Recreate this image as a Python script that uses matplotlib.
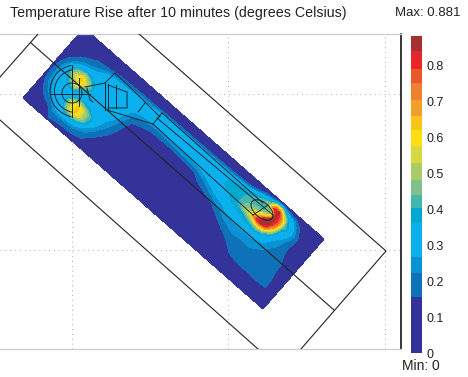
import matplotlib
matplotlib.use('Agg')
import matplotlib.pyplot as plt
import numpy as np
from matplotlib.patches import Arc, Circle, Ellipse

plt.rcParams['font.family'] = ['Liberation Sans', 'DejaVu Sans']

# stations along (u) and across (v) the modelled slab
u_st = [0, .03, .07, .10, .125, .15, .18, .22, .26, .31, .37, .45, .55, .65, .72, .77,
        .80, .82, .84, .86, .88, .90, .93, .96, 1]
v_st = [0, .08, .16, .24, .32, .40, .48, .56, .62, .68, .74, .80, .85, .89, .93, 1]

# temperature rise, one row per u station
temp = [
    [.03, .05, .08, .10, .11, .12, .12, .10, .09, .08, .06, .05, .04, .03, .03, .03],
    [.05, .08, .13, .17, .24, .26, .27, .24, .19, .15, .12, .09, .07, .05, .04, .03],
    [.06, .10, .19, .30, .32, .33, .40, .50, .42, .27, .19, .14, .09, .06, .04, .03],
    [.14, .20, .29, .32, .33, .33, .56, .66, .52, .30, .23, .18, .14, .08, .05, .03],
    [.12, .19, .32, .50, .54, .33, .38, .52, .42, .31, .27, .20, .15, .09, .05, .03],
    [.12, .18, .32, .64, .64, .36, .32, .36, .32, .31, .30, .26, .16, .10, .05, .03],
    [.11, .18, .29, .50, .50, .33, .31, .31, .31, .31, .30, .28, .19, .12, .05, .03],
    [.08, .15, .21, .27, .31, .31, .31, .31, .31, .31, .30, .29, .21, .12, .05, .03],
    [.04, .07, .11, .16, .20, .24, .27, .30, .31, .31, .31, .30, .23, .13, .05, .03],
    [.03, .04, .06, .08, .09, .10, .12, .15, .19, .25, .30, .31, .24, .13, .05, .03],
    [.03, .04, .05, .06, .07, .08, .09, .11, .14, .20, .28, .33, .29, .15, .05, .03],
    [.03, .04, .05, .06, .07, .07, .08, .10, .12, .22, .30, .33, .30, .16, .06, .03],
    [.03, .04, .05, .06, .07, .08, .09, .11, .15, .25, .31, .34, .31, .17, .06, .03],
    [.03, .05, .06, .07, .08, .09, .13, .24, .30, .32, .36, .36, .32, .19, .07, .03],
    [.04, .06, .08, .10, .12, .17, .25, .30, .36, .39, .40, .40, .37, .24, .09, .03],
    [.06, .08, .10, .13, .17, .23, .26, .33, .40, .55, .48, .42, .42, .40, .26, .03],
    [.07, .09, .14, .165, .18, .22, .26, .33, .46, .80, .62, .43, .43, .48, .38, .03],
    [.08, .10, .14, .17, .19, .22, .26, .32, .50, .86, .87, .50, .48, .80, .60, .03],
    [.09, .11, .15, .17, .20, .222, .255, .30, .46, .76, .87, .87, .86, .85, .60, .03],
    [.10, .12, .15, .17, .19, .21, .235, .29, .33, .50, .68, .75, .72, .58, .38, .03],
    [.11, .13, .15, .17, .19, .20, .22, .245, .27, .30, .36, .44, .42, .36, .28, .03],
    [.12, .14, .15, .17, .18, .19, .20, .215, .235, .26, .30, .35, .32, .28, .22, .03],
    [.10, .13, .15, .175, .18, .18, .18, .175, .17, .17, .19, .20, .17, .13, .08, .03],
    [.05, .08, .155, .16, .155, .15, .15, .13, .11, .09, .08, .07, .06, .05, .04, .03],
    [.03, .03, .03, .03, .03, .03, .03, .03, .03, .03, .03, .03, .03, .03, .03, .03],
]

levels = [0, 0.157, 0.222, 0.268, 0.36, 0.403, 0.44, 0.481, 0.528, 0.574, 0.62, 0.66, 0.704, 0.75, 0.79, 0.838, 0.881]
colors = ['#33339a', '#0f72b8', '#0a93d4', '#0bb0ee', '#03a9d0', '#45b6ac', '#7fc08c', '#a8cc68', '#d8d93e',
          '#ffdf10', '#fcc318', '#f0a028', '#ee8030', '#e9572a', '#e8262a', '#a53030']
cbar_ticks = [0, 0.1, 0.2, 0.3, 0.4, 0.5, 0.6, 0.7, 0.8]

grid_x = [72, 228, 385]
grid_y = [94, 250]

# outer box
box_lines = [[(139, 34), (386, 251), (301, 349)],
             [(0, 77), (38, 34)],
             [(31, 43), (334, 310)],
             [(0, 120), (258, 349)]]
# handpiece outline
probe_lines = [[(51, 94), (90, 94)], [(72, 65), (72, 117)], [(79, 78), (79, 106)],
               [(85, 87), (105, 83), (115, 73), (135, 92), (160, 117)],
               [(87, 88), (90, 100), (93, 102)],
               [(105, 83), (105, 110)], [(108, 84), (108, 110)],
               [(108, 85), (127, 92), (127, 108), (108, 108)], [(116, 85), (116, 108)],
               [(107, 110), (153, 124)], [(145, 103), (138, 112)],
               [(162, 113), (263, 203)], [(157, 118), (273, 215)], [(153, 124), (253, 215)],
               [(162, 113), (153, 124)], [(253, 215), (268, 205)]]

uu, vv = np.meshgrid(u_st, v_st, indexing='ij')
slab_x = 23 + 240 * uu + 61 * vv
slab_y = 98 + 211 * uu - 70 * vv

W, H = 468, 377
fig = plt.figure(figsize=(W / 100, H / 100), dpi=100)
ax = fig.add_axes([0, 1 - 349 / H, 401 / W, 315 / H])
ax.set_xlim(0, 401)
ax.set_ylim(349, 34)
ax.set_xticks([])
ax.set_yticks([])

for x in grid_x:
    ax.axvline(x, color='#aaaaaa', lw=0.7, ls=(0, (1, 4)), zorder=1)
for y in grid_y:
    ax.axhline(y, color='#aaaaaa', lw=0.7, ls=(0, (1, 4)), zorder=1)

cs = ax.contourf(slab_x, slab_y, np.array(temp), levels=levels, colors=colors, zorder=2)

for line in box_lines:
    ax.plot([p[0] for p in line], [p[1] for p in line], color='#222222', lw=0.8, zorder=4)
for line in probe_lines:
    ax.plot([p[0] for p in line], [p[1] for p in line], color='#10202a', lw=0.65, zorder=3)
ax.add_patch(Arc((76, 91), 52, 52, theta1=100, theta2=260, color='#10202a', lw=0.65, zorder=3))
ax.add_patch(Arc((76, 91), 43, 43, theta1=100, theta2=260, color='#10202a', lw=0.65, zorder=3))
ax.add_patch(Circle((72, 93), 10, fill=False, ec='#10202a', lw=0.65, zorder=3))
ax.add_patch(Ellipse((262, 210), 26, 15, angle=41, fill=False, ec='#10202a', lw=0.65, zorder=3))

for s in ['top', 'bottom']:
    ax.spines[s].set_color('#cccccc')
    ax.spines[s].set_linewidth(0.9)
ax.spines['left'].set_visible(False)
ax.spines['right'].set_color('black')
ax.spines['right'].set_linewidth(1.1)

cax = fig.add_axes([411 / W, 1 - 353 / H, 11 / W, 317 / H])
cb = fig.colorbar(cs, cax=cax, ticks=cbar_ticks, spacing='proportional')
cb.outline.set_visible(False)
cb.ax.set_yticklabels(['0', '0.1', '0.2', '0.3', '0.4', '0.5', '0.6', '0.7', '0.8'])
cb.ax.tick_params(length=0, pad=3, labelsize=9, labelcolor='#222222')

fig.text(10 / W, 1 - 13 / H, 'Temperature Rise after 10 minutes (degrees Celsius)', fontsize=10.3,
         color='#222222', va='center', ha='left')
fig.text(395 / W, 1 - 13 / H, 'Max: 0.881', fontsize=9.5, color='#222222', va='center', ha='left')
fig.text(440 / W, 1 - 366 / H, 'Min: 0', fontsize=10, color='#222222', va='center', ha='right')

fig.savefig('out.png', dpi=100)
